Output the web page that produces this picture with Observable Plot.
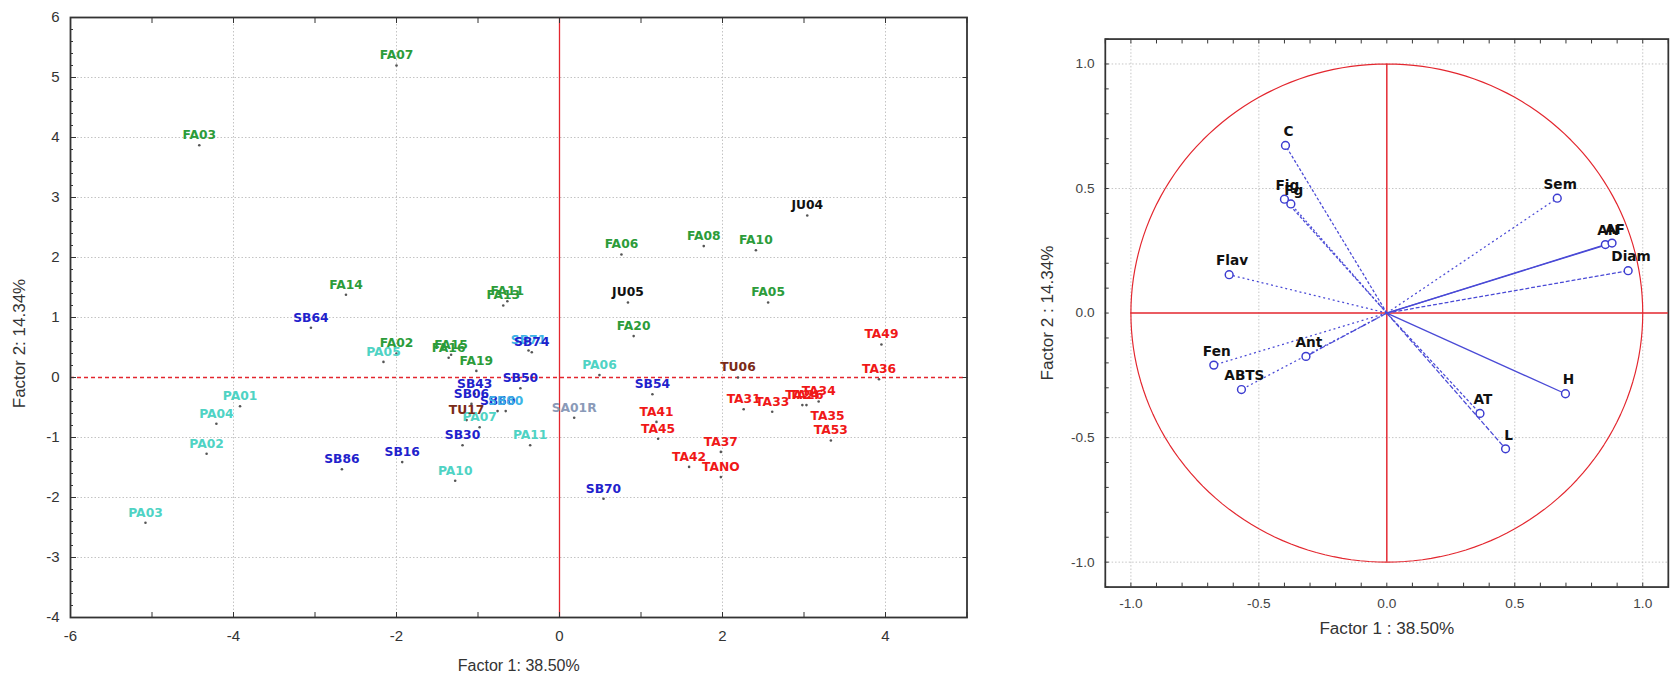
<!DOCTYPE html>
<html><head><meta charset="utf-8">
<script src="https://cdn.jsdelivr.net/npm/d3@7"></script>
<script src="https://cdn.jsdelivr.net/npm/@observablehq/plot@0.6"></script>
<style>
html,body{margin:0;padding:0;background:#fff;overflow:hidden;width:1674px;height:684px;}
#wrap{position:relative;width:1674px;height:684px;overflow:hidden;}
#left{position:absolute;left:0;top:0;}
#right{position:absolute;left:1000px;top:0;}
</style></head><body><div id="wrap"><div id="left"></div><div id="right"></div></div>
<script>
// ---- Scores plot (Factor 1 vs Factor 2) ----
const sampleNames = ["FA07","FA03","FA14","FA11","FA13","FA06","FA08","FA10","FA05","FA20","FA02","FA15","FA16","FA19",
  "JU04","JU05",
  "SB64","SB71","SB74","SB50","SB43","SB06","SB60","SB80","SB30","SB16","SB86","SB54","SB70",
  "PA05","PA01","PA04","PA02","PA03","PA07","PA11","PA10","PA06",
  "TU17","TU06","SA01R",
  "TA49","TA36","TA41","TA45","TA31","TA33","TA24","TA26","TA34","TA35","TA53","TA37","TA42","TANO"];
const sampleF1 = [-2.00,-4.42,-2.62,-0.64,-0.69,0.76,1.77,2.41,2.56,0.91,-2.00,-1.33,-1.36,-1.02,
  3.04,0.84,
  -3.05,-0.38,-0.34,-0.48,-1.04,-1.08,-0.76,-0.66,-1.19,-1.93,-2.67,1.14,0.54,
  -2.16,-3.92,-4.21,-4.33,-5.08,-0.98,-0.36,-1.28,0.49,
  -1.14,2.19,0.18,
  3.95,3.92,1.19,1.21,2.26,2.61,2.98,3.03,3.18,3.29,3.33,1.98,1.59,1.98];
const sampleF2 = [5.20,3.87,1.38,1.27,1.20,2.05,2.19,2.12,1.25,0.69,0.40,0.38,0.33,0.11,
  2.70,1.25,
  0.83,0.45,0.42,-0.18,-0.27,-0.44,-0.56,-0.56,-1.13,-1.41,-1.53,-0.28,-2.02,
  0.26,-0.48,-0.77,-1.27,-2.42,-0.83,-1.13,-1.72,0.04,
  -0.71,0.00,-0.67,
  0.55,-0.03,-0.74,-1.02,-0.53,-0.57,-0.46,-0.46,-0.40,-0.81,-1.05,-1.24,-1.49,-1.66];
const sampleGroups = ["FA","FA","FA","FA","FA","FA","FA","FA","FA","FA","FA","FA","FA","FA",
  "JU","JU",
  "SB","SBc","SB","SB","SB","SB","SB","SBc","SB","SB","SB","SB","SB",
  "PA","PA","PA","PA","PA","PA","PA","PA","PA",
  "TU","TU","SA",
  "TA","TA","TA","TA","TA","TA","TA","TA","TA","TA","TA","TA","TA","TA"];
const groupKeys = ["FA","JU","SB","SBc","PA","TU","SA","TA"];
const leftXTicks = [-6,-4,-2,0,2,4];
const leftYTicks = [-4,-3,-2,-1,0,1,2,3,4,5,6];

// ---- Loadings plot ----
const varNames = ["C","Fig","Fg","Sem","AN","AF","Diam","Flav","Fen","ABTS","Ant","H","AT","L"];
const load1 = [-0.396,-0.400,-0.375,0.666,0.854,0.880,0.943,-0.616,-0.676,-0.568,-0.316,0.698,0.364,0.464];
const load2 = [0.673,0.457,0.438,0.461,0.275,0.281,0.170,0.154,-0.209,-0.307,-0.174,-0.324,-0.403,-0.545];
const rightTicks = [-1.0,-0.5,0.0,0.5,1.0];

// ---------------------------------------------------------------
const groupColors = ["#2c9c3a","#111111","#1f22cc","#3cb4e6","#4fd3c4","#7a2a18","#8a9ab8","#f01818"];
const rows = sampleNames.map((n,i)=>({name:n, f1:sampleF1[i], f2:sampleF2[i], group:sampleGroups[i]}));
const tickFont = "Liberation Sans, Arial, sans-serif";
const red = "#e3262e";
const gridStyle = {stroke:"#c4c4c4", strokeDasharray:"1.5,2", strokeOpacity:1, strokeWidth:1};

const leftPlot = Plot.plot({
  width: 970, height: 684,
  marginLeft: 70, marginRight: 3.5, marginTop: 17, marginBottom: 67,
  style: {fontFamily: tickFont, fontSize: "15px", color: "#333", background: "white", overflow: "visible"},
  x: {domain: [-6, 5]},
  y: {domain: [-4, 6]},
  color: {domain: groupKeys, range: groupColors},
  marks: [
    Plot.gridX(leftXTicks.filter(d => d !== 0 && d !== -6), gridStyle),
    Plot.gridY(leftYTicks.filter(d => d !== 0 && d !== 6 && d !== -4), gridStyle),
    Plot.ruleY([0], {stroke: red, strokeDasharray: "4,3", strokeWidth: 1.3}),
    Plot.ruleX([0], {stroke: red, strokeWidth: 1.3}),
    Plot.axisX(d3.range(-6, 6), {anchor: "bottom", tickSize: -5, tickFormat: () => "", label: null, stroke: "#333"}),
    Plot.axisX(d3.range(-6, 6), {anchor: "top", tickSize: -5, tickFormat: () => "", label: null, stroke: "#333"}),
    Plot.axisY(d3.range(-4, 6.01, 0.2), {anchor: "left", tickSize: -3, tickFormat: () => "", label: null, stroke: "#333"}),
    Plot.axisY(d3.range(-4, 7), {anchor: "left", tickSize: -6, tickFormat: () => "", label: null, stroke: "#333"}),
    Plot.axisY(d3.range(-4, 7), {anchor: "right", tickSize: -5, tickFormat: () => "", label: null, stroke: "#333"}),
    Plot.axisX(leftXTicks, {anchor: "bottom", tickSize: 0, tickPadding: 13, tickFormat: d => String(d), label: null, fill: "#333", fontSize: 15}),
    Plot.axisY(leftYTicks, {anchor: "left", tickSize: 0, tickPadding: 11, tickFormat: d => String(d), label: null, fill: "#333", fontSize: 15}),
    Plot.frame({stroke: "#333", strokeWidth: 1.8}),
    Plot.text(["Factor 1: 38.50%"], {frameAnchor: "bottom", dy: 53, fontSize: 16, fill: "#333", fontFamily: tickFont}),
    Plot.text(["Factor 2: 14.34%"], {frameAnchor: "left", textAnchor: "middle", rotate: -90, dx: -51, dy: 26, fontSize: 17, fill: "#333", fontFamily: tickFont}),
    Plot.dot(rows, {x: "f1", y: "f2", r: 1.3, fill: "#555", stroke: null}),
    Plot.text(rows, {x: "f1", y: "f2", text: "name", fill: "group", dy: -10, fontWeight: "bold", fontSize: 12.3, fontFamily: "DejaVu Sans, sans-serif"})
  ]
});
document.getElementById("left").appendChild(leftPlot);

// loadings
const loadRows = varNames.map((v,i)=>({name:v, f1:load1[i], f2:load2[i]}));
const circle = d3.range(0, 361, 2).map(a => ({cx: Math.cos(a*Math.PI/180), cy: Math.sin(a*Math.PI/180)}));
const dashFor = {C:"3,2", Fig:"3,2", Fg:"2,2", Sem:"2,3", AN:"solid", AF:"solid", Diam:"4,2", Flav:"2,3", Fen:"2,3", ABTS:"2,3", Ant:"6,2,2,2", H:"solid", AT:"3,2", L:"5,2"};
const dashGroups = Array.from(d3.group(loadRows, d => dashFor[d.name]));

const rightPlot = Plot.plot({
  width: 690, height: 684,
  marginLeft: 107.3, marginRight: 6.3, marginTop: 39.5, marginBottom: 83.5,
  style: {fontFamily: tickFont, fontSize: "15px", color: "#333", background: "white", overflow: "visible"},
  x: {domain: [-1.1, 1.1]},
  y: {domain: [-1.1, 1.1]},
  marks: [
    Plot.gridX(rightTicks.filter(d => d !== 0), gridStyle),
    Plot.gridY(rightTicks.filter(d => d !== 0), gridStyle),
    Plot.axisX(d3.range(-11, 12).map(d => d/10), {anchor: "bottom", tickSize: -4, tickFormat: () => "", label: null, stroke: "#333"}),
    Plot.axisX(d3.range(-11, 12).map(d => d/10), {anchor: "top", tickSize: -4, tickFormat: () => "", label: null, stroke: "#333"}),
    Plot.axisY(d3.range(-11, 12).map(d => d/10), {anchor: "left", tickSize: -4, tickFormat: () => "", label: null, stroke: "#333"}),
    Plot.axisX(rightTicks, {anchor: "bottom", tickSize: 0, tickPadding: 11, tickFormat: d => d.toFixed(1), label: null, fill: "#444", fontSize: 14}),
    Plot.axisY(rightTicks, {anchor: "left", tickSize: 0, tickPadding: 11, tickFormat: d => d.toFixed(1), label: null, fill: "#444", fontSize: 14}),
    Plot.frame({stroke: "#333", strokeWidth: 1.8}),
    Plot.line(circle, {x: "cx", y: "cy", stroke: red, strokeWidth: 1.2, curve: "linear"}),
    Plot.ruleX([0], {y1: -1, y2: 1, stroke: red, strokeWidth: 1.5}),
    Plot.ruleY([0], {x1: -1, x2: 1.1, stroke: red, strokeWidth: 1.5}),
    ...dashGroups.map(([dash, rs]) => Plot.link(rs, {x1: 0, y1: 0, x2: "f1", y2: "f2", stroke: "#4a4ad6", strokeWidth: 1.3, strokeDasharray: dash === "solid" ? null : dash})),
    Plot.dot(loadRows, {x: "f1", y: "f2", r: 4, stroke: "#3c3cd0", fill: "white", strokeWidth: 1.5}),
    Plot.text(loadRows, {x: "f1", y: "f2", text: "name", dx: 3, dy: -14, fontWeight: "bold", fontSize: 14, fontFamily: "DejaVu Sans, sans-serif", fill: "#111"}),
    Plot.text(["Factor 1 : 38.50%"], {frameAnchor: "bottom", dy: 48, fontSize: 17.5, fill: "#333", fontFamily: tickFont}),
    Plot.text(["Factor 2 : 14.34%"], {frameAnchor: "left", textAnchor: "middle", rotate: -90, dx: -59, fontSize: 17.5, fill: "#333", fontFamily: tickFont})
  ]
});
document.getElementById("right").appendChild(rightPlot);
</script></body></html>
